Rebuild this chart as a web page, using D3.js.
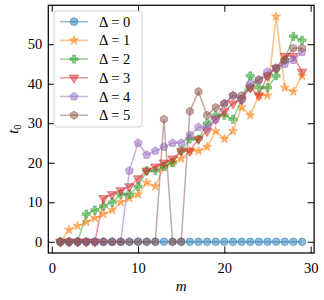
<!DOCTYPE html>
<html>
<head>
<meta charset="utf-8">
<script src="https://cdn.jsdelivr.net/npm/d3@7"></script>
<style>
  body { margin: 0; background: #fff; }
  svg { display: block; }
  text { font-family: "Liberation Serif", "DejaVu Serif", serif; fill: #000; }
</style>
</head>
<body>
<svg width="324" height="300"></svg>
<script>
// m values shared by all series
const mValues = d3.range(1, 30);

// t_0 for each Delta
const delta0 = [0,0,0,0,0,0,0,0,0,0,0,0,0,0,0,0,0,0,0,0,0,0,0,0,0,0,0,0,0];
const delta1 = [0,3,4,5,6,7,8,10,11,12,15,14,19,20,21,23,23,24,28,26,28,34,32,37,37,57,39,38,42];
const delta2 = [0,0,0,7,8,9,10,12,12,14,18,18,19,20,23,26,26,30,32,32,31,36,42,39,39,42,46,52,51];
const delta3 = [0,0,0,0,0,11,12,13,14,16,18,19,20,21,23,23,26,28,31,33,35,36,39,37,42,44,47,47,43];
const delta4 = [0,0,0,0,0,0,0,0,18,25,22,23,24,25,25,27,29,29,31,35,37,36,40,41,43,44,45,46,48];
const delta5 = [0,0,0,0,0,0,0,0,0,0,0,0,31,0,0,33,38,32,34,35,37,37,39,41,42,44,46,49,49];

const seriesLabels = ['\u0394 = 0', '\u0394 = 1', '\u0394 = 2', '\u0394 = 3', '\u0394 = 4', '\u0394 = 5'];
const seriesValues = [delta0, delta1, delta2, delta3, delta4, delta5];
const xTicks = [0, 10, 20, 30];
const yTicks = [0, 10, 20, 30, 40, 50];

const colors = ['#1f77b4', '#ff7f0e', '#2ca02c', '#d62728', '#9467bd', '#8c564b'];
const alpha = 0.5;

// regular polygon symbol (pentagon, hexagon)
function polygonSymbol(n, rot) {
  return {
    draw(ctx, size) {
      const r = Math.sqrt(size);
      for (let i = 0; i < n; i++) {
        const a = rot + (i * 2 * Math.PI) / n;
        const px = r * Math.sin(a), py = -r * Math.cos(a);
        if (i === 0) ctx.moveTo(px, py); else ctx.lineTo(px, py);
      }
      ctx.closePath();
    }
  };
}

const markers = [
  { type: d3.symbolCircle, size: 46, rotate: 0 },
  { type: d3.symbolStar, size: 25, rotate: 0 },
  { type: d3.symbolCross, size: 36, rotate: 0 },
  { type: d3.symbolTriangle, size: 38, rotate: 180 },
  { type: polygonSymbol(5, 0), size: 18, rotate: 0 },
  { type: polygonSymbol(6, 0), size: 16, rotate: 0 }
];

const svg = d3.select('svg');
const plotLeft = 48.3, plotRight = 314.1, plotTop = 5.3, plotBottom = 253;

// 5% margins like matplotlib
const xExt = d3.extent(mValues);
const yExt = d3.extent(seriesValues.flat());
const xPad = (xExt[1] - xExt[0]) * 0.05, yPad = (yExt[1] - yExt[0]) * 0.05;

const x = d3.scaleLinear().domain([xExt[0] - xPad, xExt[1] + xPad]).range([plotLeft, plotRight]);
const y = d3.scaleLinear().domain([yExt[0] - yPad, yExt[1] + yPad]).range([plotBottom, plotTop]);

const plot = svg.append('g');

const line = d3.line()
  .x((d) => x(d[0]))
  .y((d) => y(d[1]));

seriesValues.forEach((vals, i) => {
  const pts = mValues.map((m, j) => [m, vals[j]]);
  const g = plot.append('g');
  g.append('path')
    .attr('d', line(pts))
    .attr('fill', 'none')
    .attr('stroke', colors[i])
    .attr('stroke-opacity', alpha)
    .attr('stroke-width', 1.5);
  const sym = d3.symbol().type(markers[i].type).size(markers[i].size);
  g.selectAll('path.mk')
    .data(pts)
    .enter()
    .append('path')
    .attr('class', 'mk')
    .attr('d', sym)
    .attr('transform', (d) => `translate(${x(d[0])},${y(d[1])}) rotate(${markers[i].rotate})`)
    .attr('fill', colors[i])
    .attr('fill-opacity', alpha)
    .attr('stroke', colors[i])
    .attr('stroke-opacity', alpha)
    .attr('stroke-width', 1);
});

// axes with inward ticks on all four sides
const tickLen = 6.5;
const styleAxis = (g) => {
  g.select('.domain').remove();
  g.selectAll('.tick line').attr('stroke', '#000').attr('stroke-width', 1);
  g.selectAll('.tick text').attr('font-size', '14.5px').attr('font-family', '"Liberation Serif", serif');
};

svg.append('g')
  .attr('transform', `translate(0,${plotBottom})`)
  .call(d3.axisBottom(x).tickValues(xTicks).tickSize(-tickLen).tickPadding(10))
  .call(styleAxis);
svg.append('g')
  .attr('transform', `translate(0,${plotTop})`)
  .call(d3.axisTop(x).tickValues(xTicks).tickSize(-tickLen).tickFormat(''))
  .call(styleAxis);
svg.append('g')
  .attr('transform', `translate(${plotLeft},0)`)
  .call(d3.axisLeft(y).tickValues(yTicks).tickSize(-tickLen).tickPadding(6))
  .call(styleAxis);
svg.append('g')
  .attr('transform', `translate(${plotRight},0)`)
  .call(d3.axisRight(y).tickValues(yTicks).tickSize(-tickLen).tickFormat(''))
  .call(styleAxis);

svg.append('rect')
  .attr('x', plotLeft).attr('y', plotTop)
  .attr('width', plotRight - plotLeft).attr('height', plotBottom - plotTop)
  .attr('fill', 'none').attr('stroke', '#000').attr('stroke-width', 1.25);

// axis labels
svg.append('text')
  .attr('x', (plotLeft + plotRight) / 2).attr('y', 291)
  .attr('text-anchor', 'middle')
  .attr('font-size', '15px').attr('font-style', 'italic')
  .text('m');

const yl = svg.append('text')
  .attr('transform', `translate(18,${(plotTop + plotBottom) / 2}) rotate(-90)`)
  .attr('text-anchor', 'middle')
  .attr('font-size', '15px');
yl.append('tspan').attr('font-style', 'italic').text('t');
yl.append('tspan').attr('font-size', '10.5px').attr('dy', 3).text('0');

// legend
const legend = svg.append('g').attr('transform', 'translate(54,11)');
legend.append('rect')
  .attr('width', 88).attr('height', 116)
  .attr('rx', 3).attr('ry', 3)
  .attr('fill', '#fff').attr('fill-opacity', 0.8)
  .attr('stroke', '#d0d0d0').attr('stroke-width', 1);

seriesLabels.forEach((lab, i) => {
  const ry = 10.7 + i * 18.7;
  legend.append('line')
    .attr('x1', 6).attr('x2', 34).attr('y1', ry).attr('y2', ry)
    .attr('stroke', colors[i]).attr('stroke-opacity', alpha).attr('stroke-width', 1.5);
  legend.append('path')
    .attr('d', d3.symbol().type(markers[i].type).size(markers[i].size))
    .attr('transform', `translate(20,${ry}) rotate(${markers[i].rotate})`)
    .attr('fill', colors[i]).attr('fill-opacity', alpha)
    .attr('stroke', colors[i]).attr('stroke-opacity', alpha).attr('stroke-width', 1);
  legend.append('text')
    .attr('x', 45).attr('y', ry + 5)
    .attr('font-size', '14.5px')
    .text(lab);
});
</script>
</body>
</html>
